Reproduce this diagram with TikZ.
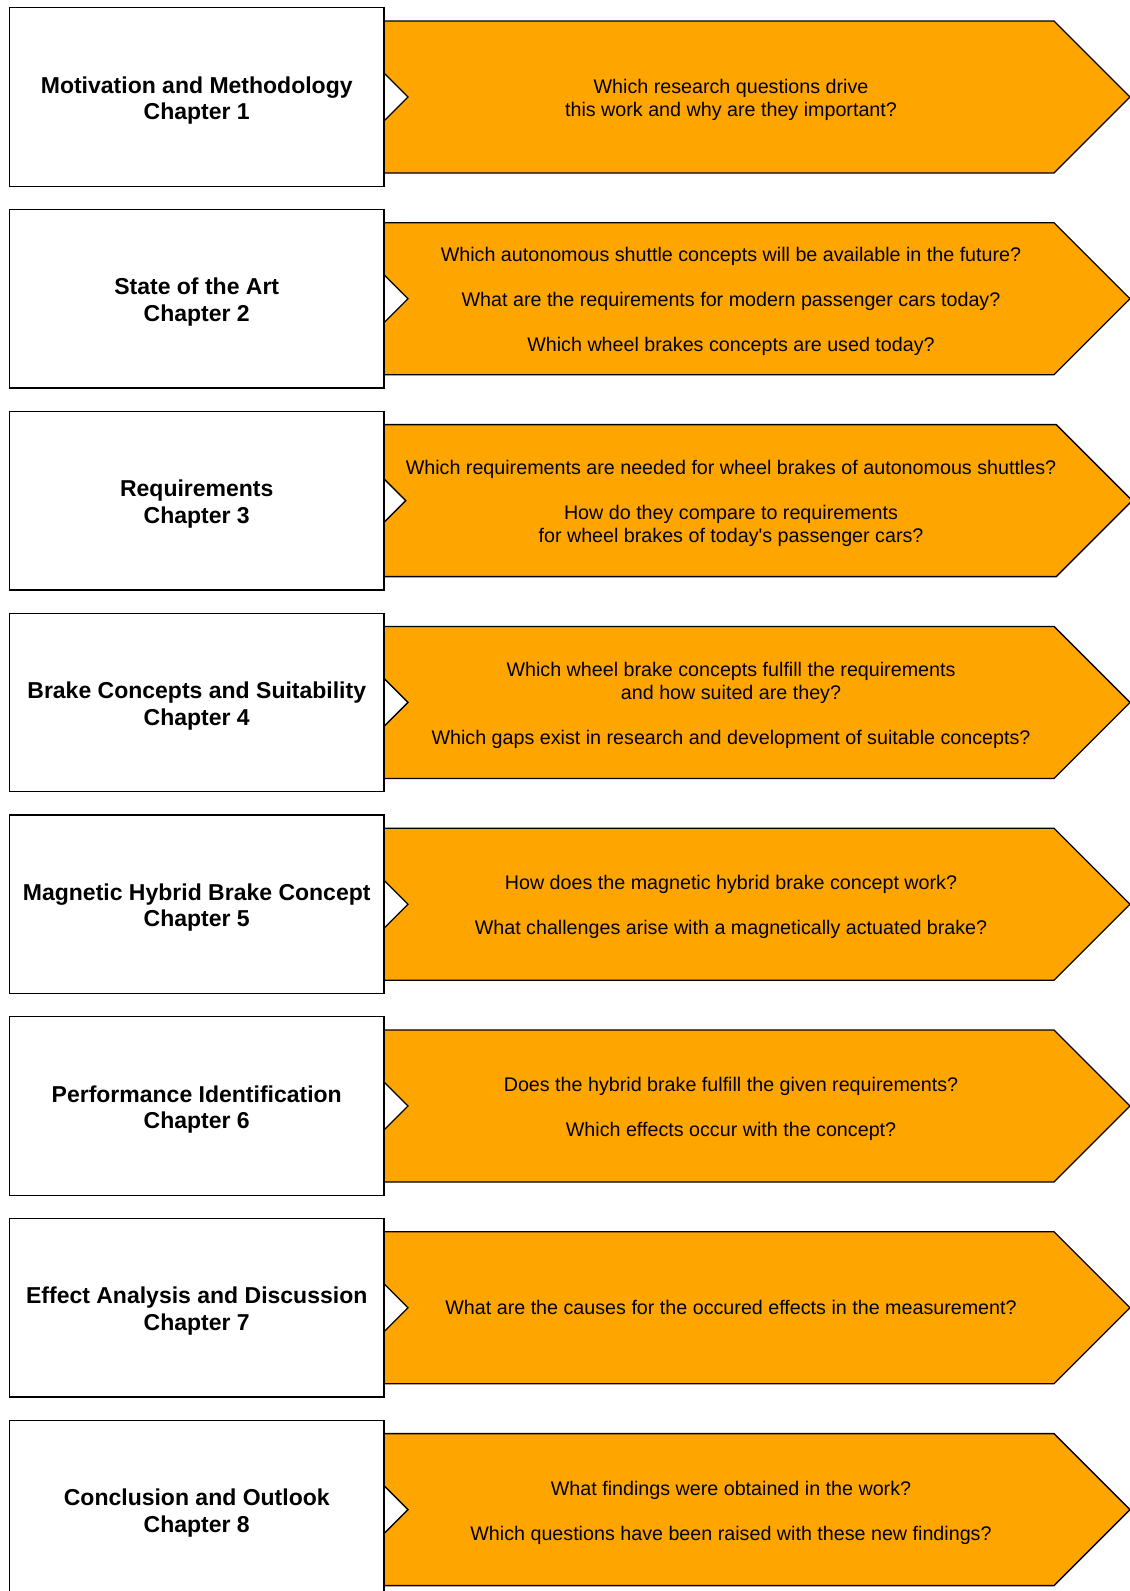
\documentclass[tikz,border=0pt]{standalone}
\usepackage{fontspec}
\setmainfont{Liberation Sans}
\usetikzlibrary{positioning,shapes.symbols}
\definecolor{steporange}{RGB}{255,165,0}
\newcommand\lift{\rule{0pt}{1.02em}}

\begin{document}
\begin{tikzpicture}[x=1pt,y=-1pt,
  chapter/.style={draw,fill=white,line width=1.3pt,outer sep=0pt,
    minimum width=374.5pt,minimum height=178.5pt,align=center,
    font=\fontsize{23}{26.5}\selectfont\bfseries},
  question/.style={shape=signal,signal from=west,signal to=east,
    signal pointer angle=90,draw,fill=steporange,line width=1.3pt,
    outer sep=0pt,inner sep=0pt,minimum width=798pt,minimum height=152pt,
    align=center,font=\fontsize{19.7}{22.5}\selectfont}]
  \useasboundingbox (0,0) rectangle (1130,1591);
  \coordinate (boxcol) at (196.75,0);

  \node[question] (q1) at (731,97) {\lift Which research questions drive\\this work and why are they important?};
  \node[chapter] (ch1) at (q1 -| boxcol) {\lift Motivation and Methodology\\Chapter 1};

  \node[question,below=49.8pt of q1] (q2) {\lift Which autonomous shuttle concepts will be available in the future?\\[22.5pt]What are the requirements for modern passenger cars today?\\[22.5pt]Which wheel brakes concepts are used today?};
  \node[chapter] (ch2) at (q2 -| boxcol) {\lift State of the Art\\Chapter 2};

  \node[question,below=49.8pt of q2] (q3) {\lift Which requirements are needed for wheel brakes of autonomous shuttles?\\[22.5pt]How do they compare to requirements\\for wheel brakes of today\textquotesingle s passenger cars?};
  \node[chapter] (ch3) at (q3 -| boxcol) {\lift Requirements\\Chapter 3};

  \node[question,below=49.8pt of q3] (q4) {\lift Which wheel brake concepts fulfill the requirements\\and how suited are they?\\[22.5pt]Which gaps exist in research and development of suitable concepts?};
  \node[chapter] (ch4) at (q4 -| boxcol) {\lift Brake Concepts and Suitability\\Chapter 4};

  \node[question,below=49.8pt of q4] (q5) {\lift How does the magnetic hybrid brake concept work?\\[22.5pt]What challenges arise with a magnetically actuated brake?};
  \node[chapter] (ch5) at (q5 -| boxcol) {\lift Magnetic Hybrid Brake Concept\\Chapter 5};

  \node[question,below=49.8pt of q5] (q6) {\lift Does the hybrid brake fulfill the given requirements?\\[22.5pt]Which effects occur with the concept?};
  \node[chapter] (ch6) at (q6 -| boxcol) {\lift Performance Identification\\Chapter 6};

  \node[question,below=49.8pt of q6] (q7) {What are the causes for the occured effects in the measurement?};
  \node[chapter] (ch7) at (q7 -| boxcol) {\lift Effect Analysis and Discussion\\Chapter 7};

  \node[question,below=49.8pt of q7] (q8) {\lift What findings were obtained in the work?\\[22.5pt]Which questions have been raised with these new findings?};
  \node[chapter] (ch8) at (q8 -| boxcol) {\lift Conclusion and Outlook\\Chapter 8};
\end{tikzpicture}
\end{document}
